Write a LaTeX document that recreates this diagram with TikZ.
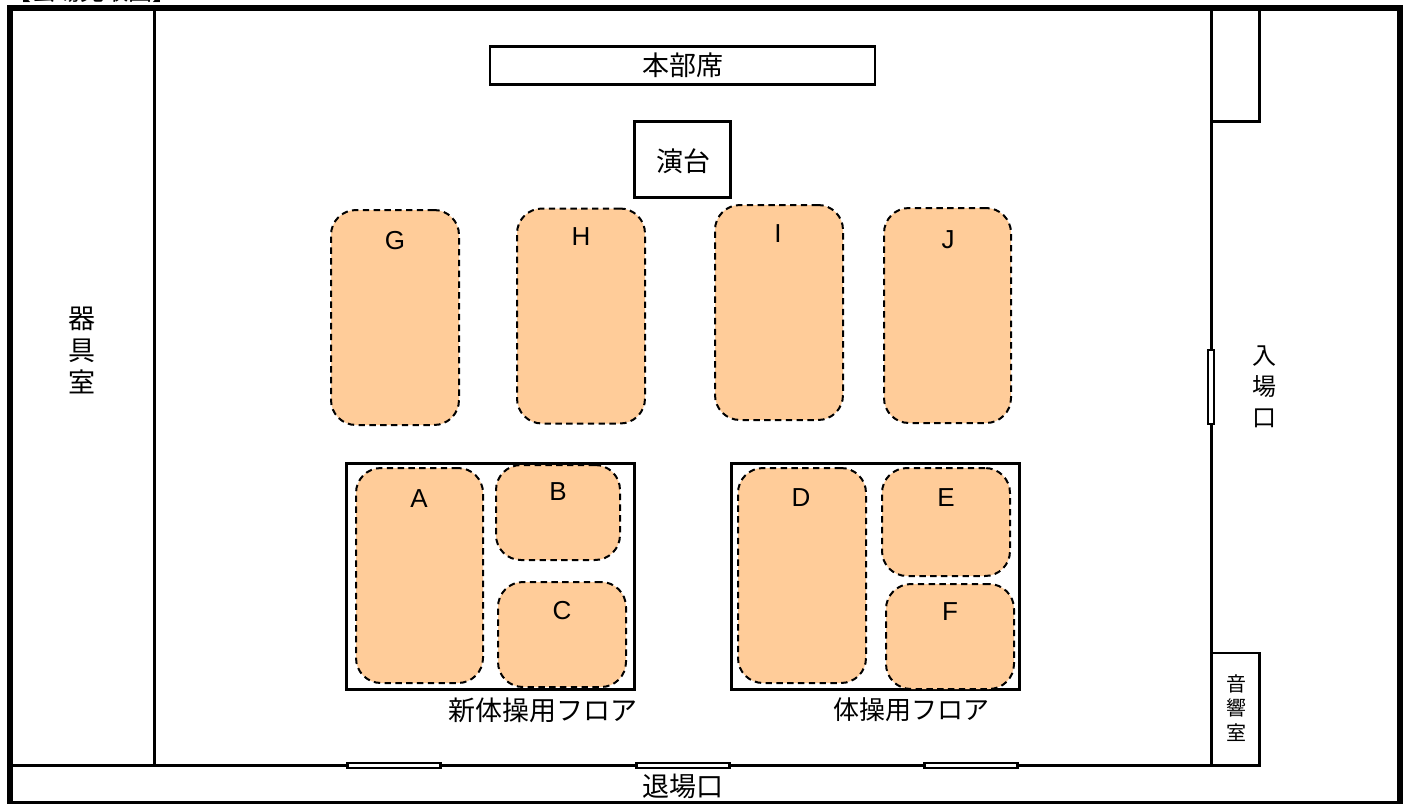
\documentclass[tikz,border=0pt]{standalone}
\usepackage{fontspec}
\setmainfont{Liberation Sans}
\newfontfamily\cjk{Noto Sans CJK JP}
\definecolor{matOrange}{HTML}{FFCC99}
\tikzset{
	pad/.style 2 args={minimum width=#1*0.5pt, minimum height=#2*0.5pt},
	wall/.style={draw=black, line width=1.4pt},
	jp/.style={font=\cjk\fontsize{13.5}{16}\selectfont, inner sep=0pt, align=center}
}

\begin{document}
\begin{tikzpicture}[x=0.5pt, y=-0.5pt]
	\useasboundingbox (0,0) rectangle (1407,803);
	\node[font=\cjk\fontsize{12}{14}\selectfont, inner sep=0pt] (title) at (92,-9) {【会場見取図】};

	% walls
	\draw[draw=black, line width=3pt] (10,8) rectangle (1400,804);
	\draw[wall] (154.5,8) -- (154.5,767);
	\draw[wall] (1211.5,8) -- (1211.5,767);
	\draw[wall] (10,765.5) -- (1260.5,765.5);
	\draw[wall] (1211.5,121.5) -- (1259.5,121.5);
	\draw[wall] (1259.5,8) -- (1259.5,123);
	\draw[wall] (1211.5,653) -- (1259.5,653) -- (1259.5,765.5);

	% doors
	\begin{scope}[every node/.style={draw=black, fill=white, line width=1.2pt, inner sep=0pt}]
		\node[pad={5.5}{74}] (doorEntry) at (1211,387) {};
		\node[pad={93}{4.8}] (doorLeft) at (394,765.5) {};
		\node[pad={93}{4.8}] (doorExit) at (683,765.5) {};
		\node[pad={93}{4.8}] (doorRight) at (971,765.5) {};
	\end{scope}

	% tables and floors
	\begin{scope}[every node/.style={draw=black, fill=white, line width=1.4pt, inner sep=0pt}]
		\node[pad={385}{38}] (hq) at (682.5,65.5) {};
		\node[pad={96}{76}] (podium) at (682.5,159.5) {};
		\node[pad={288}{226}] (newFloor) at (490.5,576.5) {};
		\node[pad={288}{226}] (oldFloor) at (875.5,576.5) {};
	\end{scope}

	% mats
	\begin{scope}[every node/.style={draw=black, fill=matOrange, line width=1pt, dash pattern=on 3.2pt off 2.2pt,
	              rounded corners=12.5pt, inner sep=0pt}]
		\node[pad={127}{215}] (matA) at (419.5,575.5) {};
		\node[pad={124}{95}] (matB) at (558,512.5) {};
		\node[pad={128}{105}] (matC) at (562,634.5) {};
		\node[pad={128}{215}] (matD) at (802,575.5) {};
		\node[pad={128}{108}] (matE) at (946,522) {};
		\node[pad={128}{105}] (matF) at (950,636.5) {};
		\node[pad={128}{215}] (matG) at (395,317.5) {};
		\node[pad={128}{215}] (matH) at (581,316) {};
		\node[pad={128}{215}] (matI) at (779,312.5) {};
		\node[pad={127}{215}] (matJ) at (947.5,315.5) {};
	\end{scope}

	% mat labels
	\begin{scope}[every node/.style={font=\fontsize{13}{15}\selectfont, inner sep=0pt}]
		\node (labelA) at (419,499) {A};
		\node (labelB) at (558,492) {B};
		\node (labelC) at (562,611) {C};
		\node (labelD) at (801,498) {D};
		\node (labelE) at (946,498) {E};
		\node (labelF) at (950,612) {F};
		\node (labelG) at (395,241) {G};
		\node (labelH) at (581,237) {H};
		\node (labelI) at (778,234) {I};
		\node (labelJ) at (948,240) {J};
	\end{scope}

	% room names
	\node[jp] (hqText) at (683,65) {本部席};
	\node[jp] (podiumText) at (683,161) {演台};
	\node[jp] (newFloorText) at (543,710) {新体操用フロア};
	\node[jp, font=\cjk\fontsize{13}{16}\selectfont] (oldFloorText) at (911.5,710) {体操用フロア};
	\node[jp] (exitText) at (683,786) {退場口};
	\node[jp] (storeText) at (82,350) {器\\具\\室};
	\node[jp, font=\cjk\fontsize{12}{15.5}\selectfont] (entryText) at (1264,387) {入\\場\\口};
	\node[jp, font=\cjk\fontsize{10}{12.25}\selectfont] (soundText) at (1236,708) {音\\響\\室};
\end{tikzpicture}
\end{document}
